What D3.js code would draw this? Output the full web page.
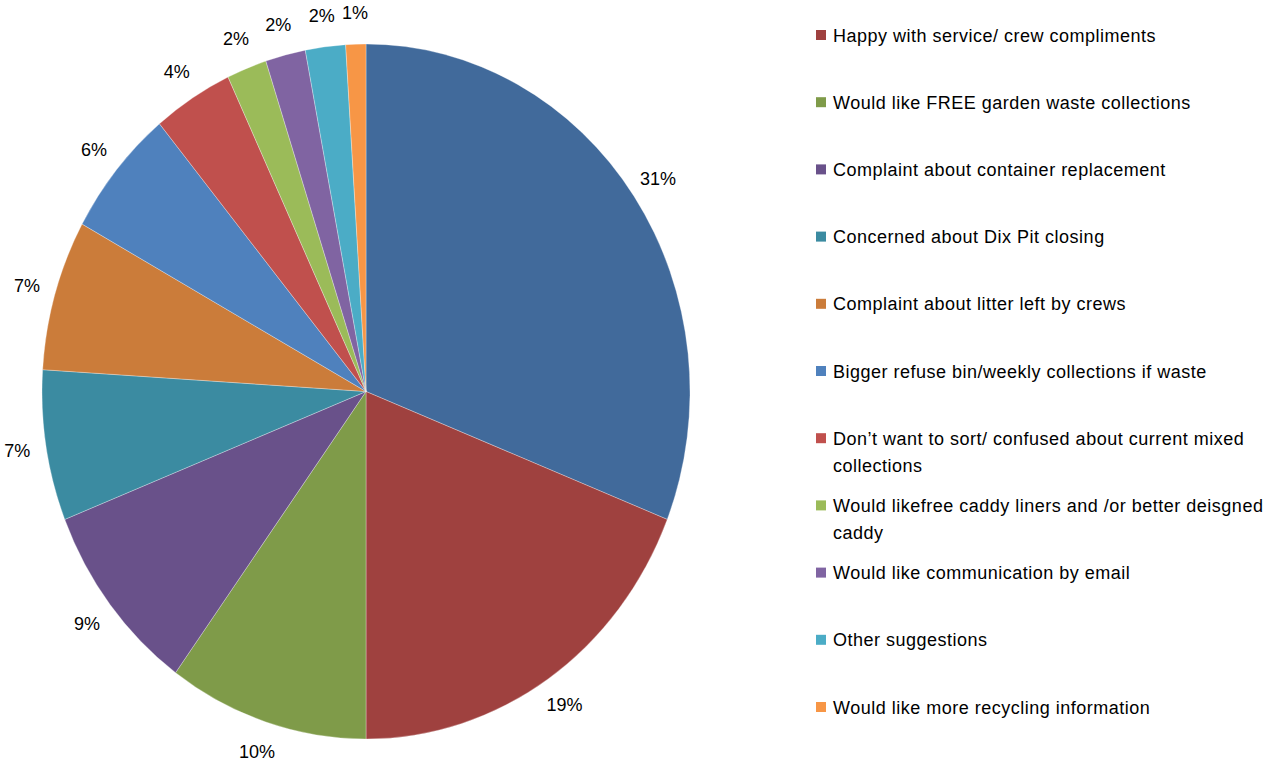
<!DOCTYPE html>
<html>
<head>
<meta charset="utf-8">
<script src="https://cdn.jsdelivr.net/npm/d3@7"></script>
<style>
  html, body { margin: 0; padding: 0; background: #fff; }
  svg { display: block; }
  text { font-family: "Liberation Sans", Arial, sans-serif; fill: #000; }
</style>
</head>
<body>
<svg id="chart" width="1286" height="776"></svg>
<script>
// Survey comment categories (the first slice carries no legend entry)
const categories = [
  null,
  "Happy with service/ crew compliments",
  "Would like FREE garden waste collections",
  "Complaint about container replacement",
  "Concerned about Dix Pit closing",
  "Complaint about litter left by crews",
  "Bigger refuse bin/weekly collections if waste",
  "Don\u2019t want to sort/ confused about current mixed collections",
  "Would likefree caddy liners and /or better deisgned caddy",
  "Would like communication by email",
  "Other suggestions",
  "Would like more recycling information"
];
// Share of comments, percent
const values = [31, 19, 10, 9, 7, 7, 6, 4, 2, 2, 2, 1];
const percentLabels = ["31%", "19%", "10%", "9%", "7%", "7%", "6%", "4%", "2%", "2%", "2%", "1%"];
const colors = [
  "#416A9B", "#9F413F", "#7F9B49", "#69518A", "#3B8BA1", "#CB7C3A",
  "#4F81BD", "#C0504D", "#9BBB59", "#8064A2", "#4BACC6", "#F79646"
];
// Legend lines (long names wrap onto a second line)
const legendLines = {
  7: ["Don\u2019t want to sort/ confused about current mixed", "collections"],
  8: ["Would likefree caddy liners and /or better deisgned", "caddy"]
};

const svg = d3.select("#chart");
const cx = 366, cy = 391.5;
const rx = 324, ry = 347.5;
const sy = ry / rx;

const data = values.map((v, i) => ({ name: categories[i], value: v, label: percentLabels[i], color: colors[i] }));

const pie = d3.pie().sort(null).value(d => d.value).startAngle(0).endAngle(2 * Math.PI);
const arcs = pie(data);
const arc = d3.arc().innerRadius(0).outerRadius(rx);

const g = svg.append("g").attr("transform", `translate(${cx},${cy}) scale(1,${sy})`);
g.selectAll("path")
  .data(arcs)
  .join("path")
  .attr("d", arc)
  .attr("fill", d => d.data.color)
  .attr("stroke", "#ffffff")
  .attr("stroke-opacity", 0.5)
  .attr("stroke-width", 0.6)
  .attr("vector-effect", "non-scaling-stroke");

// Percentage labels just outside the rim
const labelR = 353;
svg.append("g").selectAll("text")
  .data(arcs)
  .join("text")
  .attr("x", d => cx + labelR * Math.sin((d.startAngle + d.endAngle) / 2))
  .attr("y", d => cy - labelR * sy * Math.cos((d.startAngle + d.endAngle) / 2))
  .attr("text-anchor", "middle")
  .attr("dominant-baseline", "central")
  .attr("font-size", 18)
  .text(d => d.data.label);

// Legend
const legendItems = data.map((d, i) => ({ ...d, idx: i })).filter(d => d.name);
const legendY = d3.scalePoint().domain(legendItems.map(d => d.idx)).range([35, 707]);
const lg = svg.append("g");
const item = lg.selectAll("g")
  .data(legendItems)
  .join("g")
  .attr("transform", d => `translate(816,${legendY(d.idx)})`);
item.append("rect")
  .attr("x", 0).attr("y", -5)
  .attr("width", 10).attr("height", 10)
  .attr("fill", d => d.color);
item.append("text")
  .attr("x", 17)
  .attr("font-size", 18)
  .attr("letter-spacing", 0.5)
  .selectAll("tspan")
  .data(d => legendLines[d.idx] || [d.name])
  .join("tspan")
  .attr("x", 17)
  .attr("y", (l, j) => 6.5 + j * 27)
  .text(l => l);
</script>
</body>
</html>
